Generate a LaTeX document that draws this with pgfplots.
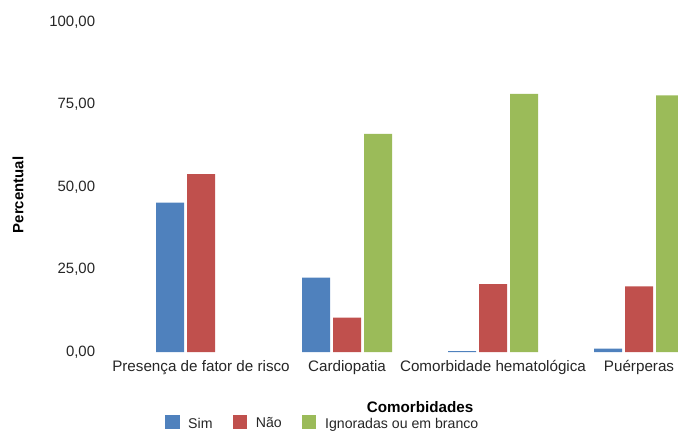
\documentclass[border=0pt]{standalone}
\usepackage{pgfplots}
\pgfplotsset{compat=1.18}
\usepackage{fontspec}
\setmainfont{Liberation Sans}

\definecolor{cSim}{HTML}{4F81BD}
\definecolor{cNao}{HTML}{C0504D}
\definecolor{cIgn}{HTML}{9BBB59}

\begin{document}
\begin{tikzpicture}
\useasboundingbox (0,0) rectangle (508.5pt,324pt);
\begin{axis}[
  at={(96pt,60pt)}, anchor=south west,
  scale only axis, width=412.5pt, height=247.5pt,
  ybar=2.25pt, bar width=21pt,
  xmin=-0.5, xmax=3.267, ymin=0, ymax=100,
  xtick={0,1,2,3},
  xticklabels={Presença de fator de risco, Cardiopatia, Comorbidade hematológica, Puérperas},
  ytick={0,25,50,75,100},
  axis line style={draw=none}, major tick length=0pt,
  /pgf/number format/.cd, assume math mode=true, fixed, fixed zerofill, precision=2, use comma, 1000 sep={},
  /pgfplots/.cd,
  yticklabel style={font=\fontsize{11.2pt}{13pt}\selectfont, color=black!85, anchor=east, inner sep=0pt, xshift=-24.5pt},
  xticklabel style={font=\fontsize{11.4pt}{13pt}\selectfont, color=black!85, anchor=north, inner sep=0pt, yshift=-6pt},
  xlabel={Comorbidades},
  xlabel style={font=\bfseries\fontsize{11.4pt}{13pt}\selectfont, at={(axis description cs:0.531,-0.166)}, anchor=center},
  ylabel={Percentual},
  ylabel style={font=\bfseries\fontsize{11.2pt}{13pt}\selectfont, at={(axis description cs:-0.2,0.476)}, anchor=center},
  legend columns=3,
  legend style={draw=none, fill=none, at={(axis description cs:0.352,-0.213)}, anchor=center,
    font=\fontsize{10.6pt}{12pt}\selectfont, text=black!85,
    nodes={inner sep=0pt},
    /tikz/every odd column/.append style={column sep=6.5pt},
    /tikz/every even column/.append style={column sep=15pt}},
  legend image code/.code={\fill[#1] (0pt,-4pt) rectangle (11pt,7pt);},
]
\addplot[fill=cSim, draw=none] coordinates {(0,45.3) (1,22.5) (2,0.3) (3,1.0)};
\addplot[fill=cNao, draw=none] coordinates {(0,53.9) (1,10.4) (2,20.6) (3,19.9)};
\addplot[fill=cIgn, draw=none] coordinates {(1,66.1) (2,78.2) (3,77.8)};
\legend{Sim, Não, Ignoradas ou em branco}
\end{axis}
\end{tikzpicture}
\end{document}
